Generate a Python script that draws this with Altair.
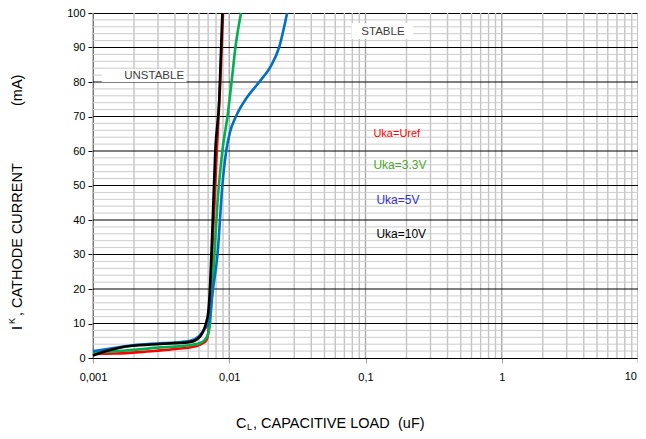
import altair as alt
import pandas as pd

FONT = "Liberation Sans"

# ---- curve data (C_L in uF, I_K in mA) ----
uref_x = [0.001, 0.00145, 0.0022, 0.00293, 0.004, 0.00574, 0.0064, 0.0068, 0.007, 0.0071, 0.0072, 0.0076, 0.0081, 0.0086, 0.0090]
uref_y = [1.2, 1.3, 1.7, 2.1, 2.6, 3.5, 4.3, 5.2, 7.0, 10.0, 14.0, 36.0, 60.0, 80.0, 100.0]

u33_x = [0.001, 0.0015, 0.0022, 0.003, 0.004, 0.0051, 0.00625, 0.0068, 0.0071, 0.00723, 0.0075, 0.00778, 0.0082, 0.0089, 0.0097, 0.0104, 0.0111, 0.0122]
u33_y = [1.5, 2.0, 2.5, 3.0, 3.3, 3.7, 4.5, 5.9, 8.0, 10.0, 20.0, 30.0, 45.0, 60.0, 70.0, 80.0, 90.0, 100.0]

u5_x = [0.001, 0.0015, 0.0022, 0.00293, 0.004, 0.0051, 0.006, 0.0066, 0.0071, 0.0076, 0.0082, 0.0089, 0.0095, 0.0101, 0.0112, 0.0132, 0.0166, 0.0202, 0.0232, 0.0266]
u5_y = [2.0, 3.0, 3.9, 4.2, 4.5, 4.9, 6.3, 8.4, 10.5, 20.0, 30.0, 50.0, 60.0, 65.3, 70.0, 75.0, 80.0, 84.6, 90.0, 100.0]

u10_x = [0.001, 0.00125, 0.00166, 0.0022, 0.00293, 0.004, 0.0051, 0.0058, 0.0064, 0.0068, 0.007, 0.00714, 0.0075, 0.0079, 0.00845, 0.0089]
u10_y = [0.7, 2.0, 3.2, 3.7, 4.0, 4.3, 4.6, 5.4, 7.5, 10.5, 13.0, 17.0, 36.0, 60.0, 75.0, 100.0]

# ---- grid / ticks ----
x_ticks = [0.001, 0.01, 0.1, 1]
x_last = [10]
x_minor = [0.002, 0.003, 0.004, 0.005, 0.006, 0.007, 0.008, 0.009,
           0.02, 0.03, 0.04, 0.05, 0.06, 0.07, 0.08, 0.09,
           0.2, 0.3, 0.4, 0.5, 0.6, 0.7, 0.8, 0.9,
           2, 3, 4, 5, 6, 7, 8, 9]
y_ticks = [0, 10, 20, 30, 40, 50, 60, 70, 80, 90, 100]
y_minor = [2, 4, 6, 8, 12, 14, 16, 18, 22, 24, 26, 28, 32, 34, 36, 38, 42, 44, 46, 48,
           52, 54, 56, 58, 62, 64, 66, 68, 72, 74, 76, 78, 82, 84, 86, 88, 92, 94, 96, 98]
y_major = [10, 20, 30, 40, 50, 60, 70, 80, 90]

# ---- annotations ----
region_text = ["STABLE", "UNSTABLE"]
region_x = [0.1343, 0.00281]
region_y = [94.5, 81.7]
box_x1 = [0.0791, 0.00116]
box_x2 = [0.224, 0.00485]
box_y1 = [97.1, 83.8]
box_y2 = [92.5, 80.0]

label_text = ["Uka=Uref", "Uka=3.3V", "Uka=5V", "Uka=10V"]
label_x = [0.1143, 0.1143, 0.1202, 0.1202]
label_y = [64.9, 55.9, 45.8, 35.9]
label_color = ["#ff0000", "#4ea72e", "#3333cc", "#000000"]
label_size = [11, 12, 12, 12]

xscale = alt.Scale(type="log", domain=[0.001, 10], nice=False)
yscale = alt.Scale(domain=[0, 100], nice=False, zero=False)
xaxis = alt.Axis(values=x_ticks, title=None, grid=False,
                 labelExpr="replace(datum.value + '', '.', ',')",
                 labelFont=FONT, labelFontSize=11, labelColor="#000",
                 tickColor="#a0a0a0", tickSize=5, domainColor="#000",
                 labelPadding=8, labelFlush=False)
yaxis = alt.Axis(values=y_ticks, title=None, grid=False,
                 labelFont=FONT, labelFontSize=11, labelColor="#000",
                 tickColor="#000", tickSize=5, domainColor="#000",
                 labelPadding=3)


def X(f):
    return alt.X(f + ":Q", scale=xscale, axis=xaxis)


def Y(f):
    return alt.Y(f + ":Q", scale=yscale, axis=yaxis)


layers = []

layers.append(alt.Chart(pd.DataFrame({"gx": x_minor})).mark_rule(color="#c4c4c4", strokeWidth=1.4).encode(x=X("gx")))
layers.append(alt.Chart(pd.DataFrame({"gx": x_ticks + x_last})).mark_rule(color="#a8a8a8", strokeWidth=1.4).encode(x=X("gx")))
layers.append(alt.Chart(pd.DataFrame({"gy": y_minor})).mark_rule(color="#cccccc", strokeWidth=1).encode(y=Y("gy")))
layers.append(alt.Chart(pd.DataFrame({"gy": y_major})).mark_rule(color="#000000", strokeWidth=1).encode(y=Y("gy")))

# last decade: tick + right-aligned label (keeps it inside the page)
last = pd.DataFrame({"gx": x_last, "t": [str(v) for v in x_last]})
layers.append(alt.Chart(last).mark_rule(color="#a0a0a0", strokeWidth=1).encode(
    x=X("gx"), y=alt.value(345), y2=alt.value(350)))
layers.append(alt.Chart(last).mark_text(font=FONT, fontSize=11, color="#000", align="right",
                                        baseline="middle", dy=0, dx=-1).encode(
    x=X("gx"), y=alt.value(364), text="t:N"))

boxes = pd.DataFrame({"x1": box_x1, "x2": box_x2, "y1": box_y1, "y2": box_y2})
layers.append(alt.Chart(boxes).mark_rect(color="white").encode(
    x=X("x1"), x2="x2", y=Y("y1"), y2="y2"))
regions = pd.DataFrame({"t": region_text, "x": region_x, "y": region_y})
layers.append(alt.Chart(regions).mark_text(font=FONT, fontSize=11.5, color="#404040").encode(
    x=X("x"), y=Y("y"), text="t:N"))

series = [(uref_x, uref_y, "#ff0000"), (u33_x, u33_y, "#00b050"),
          (u5_x, u5_y, "#0070c0"), (u10_x, u10_y, "#000000")]
for xs, ys, col in series:
    df = pd.DataFrame({"c": xs, "i": ys})
    layers.append(alt.Chart(df).mark_line(color=col, strokeWidth=2.6, interpolate="monotone").encode(
        x=X("c"), y=Y("i")))

for t, lx, ly, col, sz in zip(label_text, label_x, label_y, label_color, label_size):
    df = pd.DataFrame({"t": [t], "x": [lx], "y": [ly]})
    layers.append(alt.Chart(df).mark_text(font=FONT, fontSize=sz, color=col, align="left").encode(
        x=X("x"), y=Y("y"), text="t:N"))


# axis titles (with sub/superscripts)
def txt(t, px, py, size, angle=0):
    kw = dict(font=FONT, fontSize=size, color="#000", align="left", baseline="middle")
    if angle:
        kw["angle"] = angle
    return alt.Chart(pd.DataFrame({"t": [t]})).mark_text(**kw).encode(
        x=alt.value(px), y=alt.value(py), text="t:N")


layers += [
    txt("C", 143, 411, 14.5),
    txt("L", 154, 414, 9),
    txt(", CAPACITIVE LOAD", 160, 411, 14.5),
    txt("(uF)", 305, 411, 14.5),
    txt("I", -75, 317, 14.5, 270),
    txt("K", -81, 311, 9, 270),
    txt(", CATHODE CURRENT", -75, 303, 14.5, 270),
    txt("(mA)", -75, 93, 14.5, 270),
]

chart = alt.layer(*layers).properties(
    width=545, height=345,
    autosize=alt.AutoSizeParams(type="none"),
    padding={"left": 85, "top": 5, "right": 0, "bottom": 73},
).configure_view(stroke="#000", strokeWidth=1)

chart.save("out.html", embed_options={"renderer": "svg", "actions": False})
